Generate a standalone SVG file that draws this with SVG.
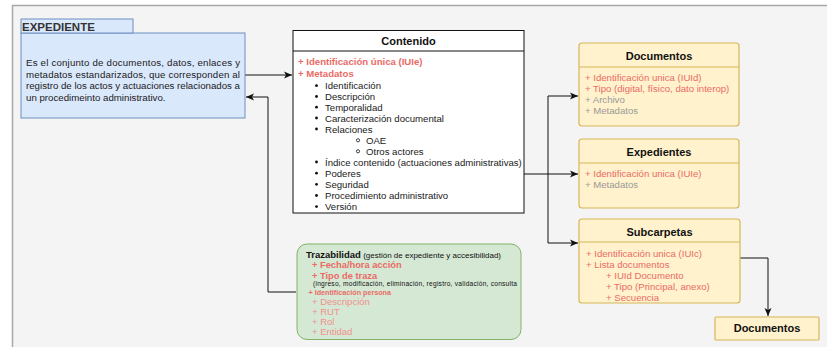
<svg xmlns="http://www.w3.org/2000/svg" width="827" height="347" viewBox="0 0 827 347">
  <style>
    text { font-family: "Liberation Sans", Arial, Helvetica, sans-serif; }
    .t { font-size: 9.6px; fill: #1a1a1a; }
    .red { fill: #ea6b66; }
    .pale { fill: #f0918d; }
    .grey { fill: #9a9a9a; }
    .b { font-weight: bold; }
    .title { font-size: 11px; font-weight: bold; fill: #111; text-anchor: middle; }
    .yellow { fill: #fff2cc; stroke: #d6b656; stroke-width: 1.2; }
    .edge { fill: none; stroke: #111; stroke-width: 1; marker-end: url(#arr); }
  </style>
  <defs>
    <marker id="arr" markerWidth="10" markerHeight="8" refX="8" refY="4" orient="auto" markerUnits="userSpaceOnUse">
      <path d="M0,0.5 L8,4 L0,7.5 L2,4 Z" fill="#111"/>
    </marker>
  </defs>

  <!-- page -->
  <rect x="0" y="0" width="827" height="347" fill="#ffffff"/>
  <rect x="12.5" y="5.5" width="830" height="350" fill="#f4f4f4" stroke="#a8a8a8" stroke-width="1.5"/>

  <!-- connectors -->
  <g id="connectors">
    <path class="edge" d="M245,75 H292"/>
    <path class="edge" d="M296,292 H268 V97 H246"/>
    <path class="edge" d="M524,174 H548 V96 H578"/>
    <path class="edge" d="M548,174 H578"/>
    <path class="edge" d="M548,174 V243 H578"/>
    <path class="edge" d="M740,258 H768 V316"/>
  </g>

  <!-- EXPEDIENTE -->
  <g id="expediente">
    <rect x="21" y="33" width="224" height="85" fill="#dae8fc" stroke="#6c8ebf" stroke-width="1"/>
    <rect x="21" y="19" width="112" height="14" fill="#dae8fc" stroke="#6c8ebf" stroke-width="1"/>
    <text x="22" y="31" font-size="11.5" font-weight="bold" fill="#333">EXPEDIENTE</text>
    <g class="t" font-size="9.7">
      <text x="26" y="65.5" textLength="214" lengthAdjust="spacing" font-size="9.7">Es el conjunto de documentos, datos, enlaces y</text>
      <text x="26" y="77.5" textLength="214" lengthAdjust="spacing" font-size="9.7">metadatos estandarizados, que corresponden al</text>
      <text x="26" y="89" textLength="214" lengthAdjust="spacing" font-size="9.7">registro de los actos y actuaciones relacionados a</text>
      <text x="26" y="100.5" font-size="9.7">un procedimeinto administrativo.</text>
    </g>
  </g>

  <!-- Contenido -->
  <g id="contenido">
    <rect x="293" y="30.5" width="231" height="182.5" fill="#ffffff" stroke="#111" stroke-width="1"/>
    <line x1="293" y1="51" x2="524" y2="51" stroke="#111" stroke-width="1"/>
    <text x="408.5" y="44.5" class="title" font-size="12">Contenido</text>
    <text x="298" y="65" class="t red b">+ Identificación única (IUIe)</text>
    <text x="298" y="76.5" class="t red b">+ Metadatos</text>
    <g fill="#111">
      <circle cx="316.5" cy="85.7" r="1.4"/>
      <circle cx="316.5" cy="96.5" r="1.4"/>
      <circle cx="316.5" cy="107.2" r="1.4"/>
      <circle cx="316.5" cy="118" r="1.4"/>
      <circle cx="316.5" cy="129" r="1.4"/>
      <circle cx="316.5" cy="162" r="1.4"/>
      <circle cx="316.5" cy="173.2" r="1.4"/>
      <circle cx="316.5" cy="184.3" r="1.4"/>
      <circle cx="316.5" cy="195.5" r="1.4"/>
      <circle cx="316.5" cy="206.6" r="1.4"/>
    </g>
    <g fill="none" stroke="#111" stroke-width="0.8">
      <circle cx="358" cy="140.3" r="1.6"/>
      <circle cx="358" cy="151.3" r="1.6"/>
    </g>
    <text x="325" y="89" class="t">Identificación</text>
    <text x="325" y="100" class="t">Descripción</text>
    <text x="325" y="110.8" class="t">Temporalidad</text>
    <text x="325" y="121.6" class="t">Caracterización documental</text>
    <text x="325" y="132.5" class="t">Relaciones</text>
    <text x="366" y="143.8" class="t">OAE</text>
    <text x="366" y="154.8" class="t">Otros actores</text>
    <text x="325" y="165.5" class="t">Índice contenido (actuaciones administrativas)</text>
    <text x="325" y="176.7" class="t">Poderes</text>
    <text x="325" y="187.8" class="t">Seguridad</text>
    <text x="325" y="199" class="t">Procedimiento administrativo</text>
    <text x="325" y="210.1" class="t">Versión</text>
  </g>

  <!-- Documentos -->
  <g id="documentos">
    <rect class="yellow" x="579" y="43" width="160" height="83" rx="3"/>
    <line x1="579" y1="67" x2="739" y2="67" stroke="#d6b656" stroke-width="1.2"/>
    <text x="659" y="60" class="title">Documentos</text>
    <text x="585" y="81" class="t red">+ Identificación unica (IUId)</text>
    <text x="585" y="92" class="t red">+ Tipo (digital, físico, dato interop)</text>
    <text x="585" y="103" class="t grey">+ Archivo</text>
    <text x="585" y="114" class="t grey">+ Metadatos</text>
  </g>

  <!-- Expedientes -->
  <g id="expedientes">
    <rect class="yellow" x="579" y="139" width="160" height="69" rx="3"/>
    <line x1="579" y1="163" x2="739" y2="163" stroke="#d6b656" stroke-width="1.2"/>
    <text x="659" y="156" class="title">Expedientes</text>
    <text x="585" y="176.5" class="t red">+ Identificación unica (IUIe)</text>
    <text x="585" y="187.5" class="t grey">+ Metadatos</text>
  </g>

  <!-- Subcarpetas -->
  <g id="subcarpetas">
    <rect class="yellow" x="579" y="219" width="161" height="84" rx="3"/>
    <line x1="579" y1="242" x2="740" y2="242" stroke="#d6b656" stroke-width="1.2"/>
    <text x="659.5" y="236" class="title">Subcarpetas</text>
    <text x="586" y="256.5" class="t red">+ Identificación unica (IUIc)</text>
    <text x="586" y="267.5" class="t red">+ Lista documentos</text>
    <text x="606" y="278.5" class="t red">+ IUId Documento</text>
    <text x="606" y="289.5" class="t red">+ Tipo (Principal, anexo)</text>
    <text x="606" y="300.5" class="t red">+ Secuencia</text>
  </g>

  <!-- Documentos (referenced from Subcarpetas) -->
  <g id="documentos-lista">
    <rect class="yellow" x="715" y="317" width="104" height="23" rx="1"/>
    <text x="767" y="332" class="title">Documentos</text>
  </g>

  <!-- Trazabilidad -->
  <g id="trazabilidad">
    <rect x="297" y="244" width="224" height="95.5" rx="10" fill="#d5e8d4" stroke="#82b366" stroke-width="1"/>
    <text x="306" y="258" font-size="9.5" font-weight="bold" fill="#111">Trazabilidad<tspan font-size="8" font-weight="normal"> (gestión de expediente y accesibilidad)</tspan></text>
    <text x="312" y="267.5" font-size="9.3" font-weight="bold" class="red">+ Fecha/hora acción</text>
    <text x="312" y="278.5" font-size="9.3" font-weight="bold" class="red">+ Tipo de traza</text>
    <text x="313" y="285.8" font-size="6.6" fill="#111" textLength="204" lengthAdjust="spacing">(ingreso, modificación, eliminación, registro, validación, consulta</text>
    <text x="308.5" y="294.5" font-size="7.2" font-weight="bold" class="red">+ Identificación persona</text>
    <text x="312" y="304.5" font-size="9.5" class="pale">+ Descripción</text>
    <text x="312" y="314.5" font-size="9.5" class="pale">+ RUT</text>
    <text x="312" y="324.5" font-size="9.5" class="pale">+ Rol</text>
    <text x="312" y="334.5" font-size="9.5" class="pale">+ Entidad</text>
  </g>
</svg>
